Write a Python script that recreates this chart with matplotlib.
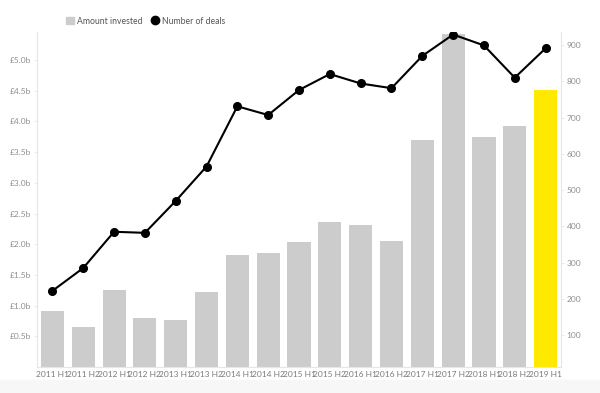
import matplotlib
matplotlib.use('Agg')
import matplotlib.pyplot as plt
from matplotlib.patches import Rectangle
from matplotlib.lines import Line2D
import numpy as np

plt.rcParams['font.family'] = ['Lato', 'DejaVu Sans']

periods = ['2011 H1', '2011 H2', '2012 H1', '2012 H2', '2013 H1', '2013 H2',
           '2014 H1', '2014 H2', '2015 H1', '2015 H2', '2016 H1', '2016 H2',
           '2017 H1', '2017 H2', '2018 H1', '2018 H2', '2019 H1']
invested = [0.92, 0.65, 1.255, 0.80, 0.77, 1.22, 1.82, 1.86, 2.03, 2.355,
            2.31, 2.055, 3.70, 5.42, 3.745, 3.93, 4.51]
deals = [222, 285, 385, 382, 470, 565, 731, 707, 776, 820, 794, 781,
         870, 929, 899, 810, 891]
left_ticks = [0.5, 1.0, 1.5, 2.0, 2.5, 3.0, 3.5, 4.0, 4.5, 5.0]
right_ticks = [100, 200, 300, 400, 500, 600, 700, 800, 900]

grey = '#cccccc'
yellow = '#ffe900'
tick_col = '#8f8f8f'
spine_col = '#e6e6e6'

fig = plt.figure(figsize=(6, 3.93), dpi=100)
# light strip along the bottom
fig.patches.append(Rectangle((0, 0), 1, 13 / 393, transform=fig.transFigure,
                             color='#f7f7f7', zorder=0))

ax = fig.add_axes([37 / 600, 1 - 367 / 393, (561 - 37) / 600, (367 - 32) / 393])
x = np.arange(len(periods))
colors = [grey] * (len(periods) - 1) + [yellow]
ax.bar(x, invested, width=0.75, color=colors, zorder=1)
ax.set_xlim(-0.5, len(periods) - 0.5)
ax.set_ylim(0, 5.457)
ax.set_yticks(left_ticks)
ax.set_yticklabels(['£%.1fb' % v for v in left_ticks])
ax.set_xticks(x)
ax.set_xticklabels(periods)

ax2 = ax.twinx()
ax2.plot(x, deals, color='black', lw=1.5, marker='o', ms=5.5, zorder=3)
ax2.set_ylim(12, 936)
ax2.set_yticks(right_ticks)

for a in (ax, ax2):
    for s in a.spines.values():
        s.set_visible(False)
    a.tick_params(colors=tick_col, labelsize=6, length=2, width=0.6)
ax.spines['left'].set_visible(True)
ax.spines['left'].set_color(spine_col)
ax.spines['bottom'].set_visible(True)
ax.spines['bottom'].set_color(spine_col)
ax2.spines['right'].set_visible(True)
ax2.spines['right'].set_color(spine_col)
ax.tick_params(axis='x', length=0, pad=3, labelcolor='#7a7a7a', labelsize=6)
ax.tick_params(axis='y', color=spine_col, pad=2)
ax2.tick_params(axis='y', color=spine_col, pad=2)

handles = [Rectangle((0, 0), 1, 1, color=grey),
           Line2D([], [], color='black', marker='o', ls='none', ms=6)]
fig.legend(handles, ['Amount invested', 'Number of deals'], loc='center left',
           bbox_to_anchor=(58 / 600, 1 - 21 / 393), ncol=2, frameon=False,
           fontsize=6.2, labelcolor='#555555', handlelength=0.9, handleheight=0.9,
           handletextpad=0.4, columnspacing=1.0)

fig.savefig('out.png', dpi=100)
